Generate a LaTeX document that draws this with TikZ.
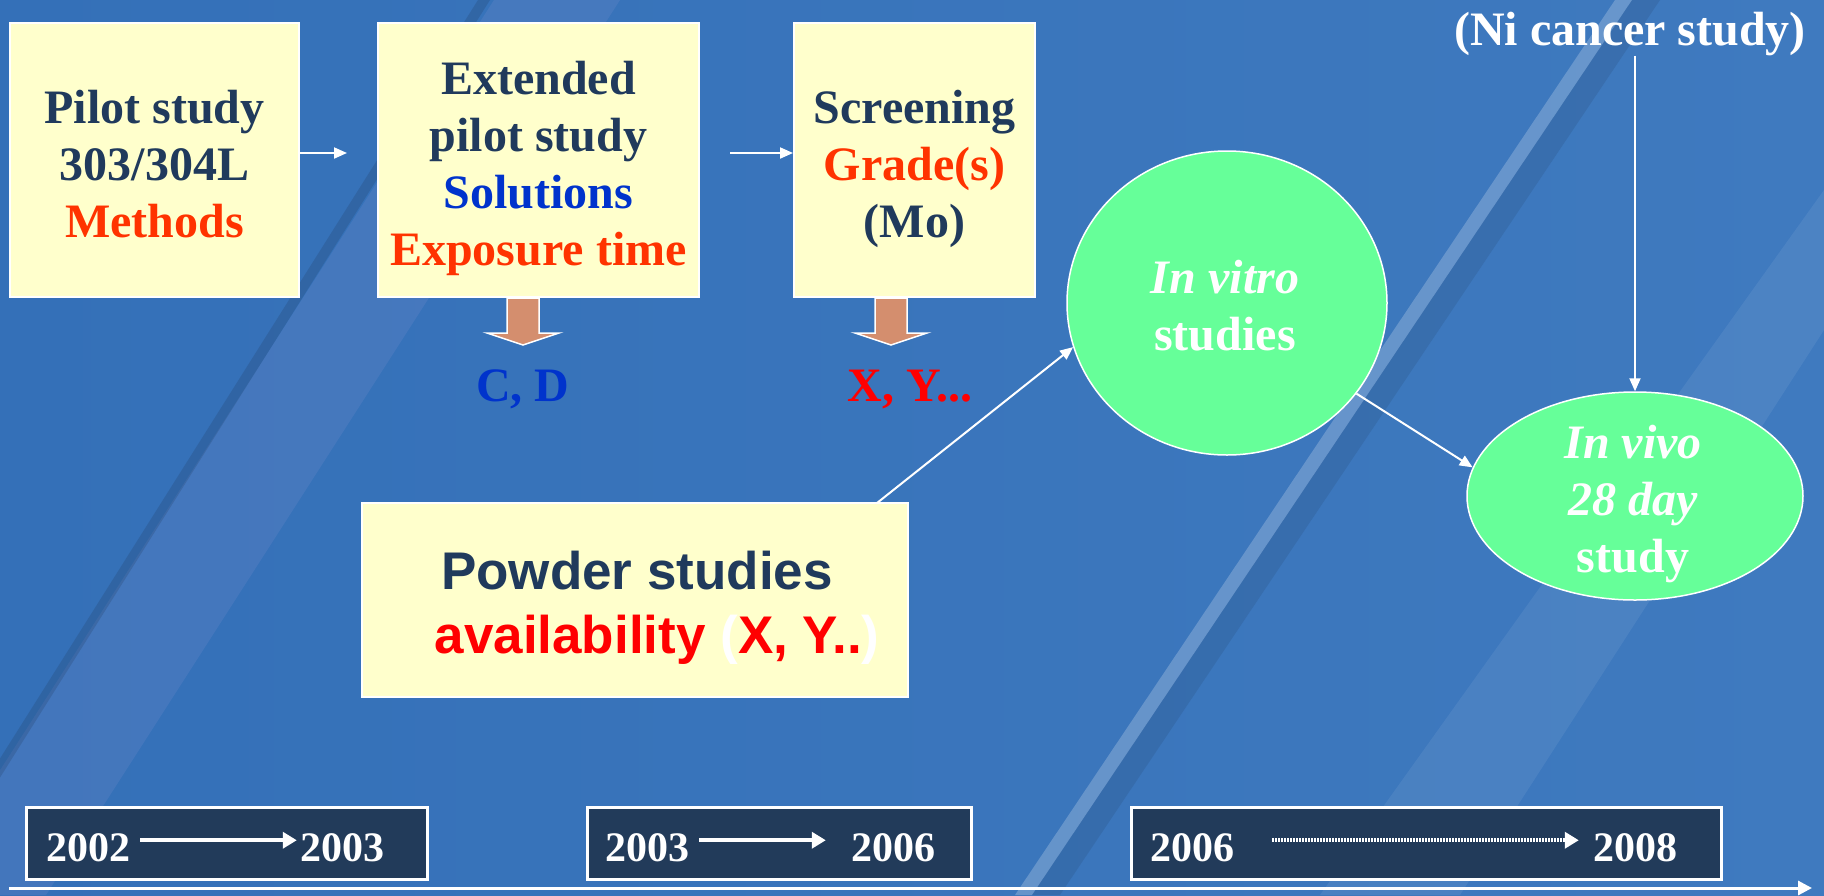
\documentclass[tikz,border=0pt]{standalone}
\usepackage{fontspec}
\setmainfont{Liberation Serif}
\newfontfamily\arialfont{Liberation Sans}
\usetikzlibrary{shapes.geometric,arrows.meta}
\definecolor{navy}{HTML}{203A5C}
\definecolor{orng}{HTML}{FF3300}
\definecolor{blu}{HTML}{0033CC}
\definecolor{rd}{HTML}{FF0000}
\definecolor{boxfill}{HTML}{FFFFCC}
\definecolor{grn}{HTML}{66FF99}
\definecolor{fatc}{HTML}{D48E6E}
\definecolor{tlbox}{HTML}{223B5A}
\definecolor{bgL}{HTML}{3470B8}
\definecolor{bgM}{HTML}{5289CB}
\definecolor{bgR}{HTML}{3F7ABF}
\definecolor{lilac}{HTML}{9C9ED8}
\begin{document}
\begin{tikzpicture}[x=1pt,y=-1pt,
  ybox/.style={draw=white,line width=2pt,fill=boxfill,inner sep=0pt},
  btxt/.style={font=\fontsize{48}{57}\selectfont\bfseries,text=navy,align=center,inner sep=0pt,anchor=north},
  etxt/.style={font=\fontsize{48}{57}\selectfont\bfseries,text=white,align=center,inner sep=0pt,anchor=north},
  ell/.style={ellipse,draw=white,line width=1.5pt,fill=grn,inner sep=0pt},
  warrow/.style={draw=white,line width=2pt,-{Triangle[length=13pt,width=11pt]}},
  fatarrow/.style={fill=fatc,draw=white,line width=1.5pt},
  lbl/.style={font=\fontsize{48}{57}\selectfont\bfseries,inner sep=0pt,anchor=base},
  tlb/.style={draw=white,line width=3pt,fill=tlbox,inner sep=0pt},
  yr/.style={font=\fontsize{42}{42}\selectfont\bfseries,text=white,inner sep=0pt,anchor=base},
  tarrow/.style={draw=white,line width=4pt,-{Triangle[length=14pt,width=16pt]}},
  axarrow/.style={draw=white,line width=3pt,-{Triangle[length=14pt,width=14pt]}}
]
\useasboundingbox (0,0) rectangle (1824,895);
% background
\shade[left color=bgL,middle color=bgM,right color=bgR] (0,0) rectangle (1824,895);
% left streak: light band and dark line
\fill[lilac,opacity=0.15] (494,0) -- (620,0) -- (46,895) -- (-80,895) -- cycle;
\fill[navy,opacity=0.22] (478,0) -- (490,0) -- (-74,895) -- (-86,895) -- cycle;
% middle-right streak: thin light line with dark shadow
\fill[white,opacity=0.22] (1615,0) -- (1632,0) -- (1032,895) -- (1015,895) -- cycle;
\fill[navy,opacity=0.16] (1632,0) -- (1660,0) -- (1060,895) -- (1032,895) -- cycle;
% broad light area on the right
\fill[white,opacity=0.07] (1320,895) -- (1460,895) -- (1824,330) -- (1824,190) -- cycle;
% top boxes
\node[ybox,minimum width=289pt,minimum height=274pt] (b1) at (154.5,160) {};
\node[ybox,minimum width=321pt,minimum height=274pt] (b2) at (538.5,160) {};
\node[ybox,minimum width=241pt,minimum height=274pt] (b3) at (914.5,160) {};
\node[btxt] (t1) at (154.5,89.5) {Pilot study\\303/304L\\\textcolor{orng}{Methods}};
\node[btxt] (t2) at (538.5,60.5) {Extended\\pilot study\\\textcolor{blu}{Solutions}\\\textcolor{orng}{Exposure time}};
\node[btxt] (t3) at (914.5,89.5) {Screening\\\textcolor{orng}{Grade(s)}\\(Mo)};
% connectors between top boxes
\coordinate (a12e) at (347,153);
\draw[warrow] (b1.east |- a12e) -- (a12e);
\coordinate (a23s) at (730,153);
\draw[warrow] (a23s) -- (a23s -| b3.west);
% fat arrows
\path[fatarrow] ([xshift=-15.5pt]b2.south) ++(-16,0) -- ++(0,35) -- ++(-20,0) -- ++(36,12) -- ++(36,-12) -- ++(-20,0) -- ++(0,-35) -- cycle;
\path[fatarrow] ([xshift=-23.5pt]b3.south) ++(-16,0) -- ++(0,35) -- ++(-20,0) -- ++(36,12) -- ++(36,-12) -- ++(-20,0) -- ++(0,-35) -- cycle;
\node[lbl,text=blu] (cd) at (523,401) {C, D};
\node[lbl,text=rd] (xy) at (910,401) {X, Y...};
% ellipses
\node[ell,minimum width=320pt,minimum height=304pt] (iv) at (1227,303) {};
\node[etxt] (ivt) at (1225,260) {\textit{In vitro}\\studies};
\node[ell,minimum width=336pt,minimum height=208pt] (ivv) at (1635,496) {};
\node[etxt] (ivvt) at (1633,425) {\textit{In vivo}\\\textit{28 day}\\study};
\node[lbl,text=white] (ni) at (1630,45) {(Ni cancer study)};
\draw[warrow] (ni.south -| ivv.north) -- (ivv.north);
\draw[warrow] (iv.325) -- (ivv.170);
% powder box
\node[ybox,minimum width=546pt,minimum height=194pt] (pw) at (635,600) {};
\node[inner sep=0pt,anchor=north,align=center,font=\arialfont\fontsize{53}{64}\selectfont\bfseries] (pwt) at (637,551)
  {\textcolor{navy}{Powder studies}\\\hspace*{40pt}\textcolor{rd}{availability {\color{white}(}X, Y..{\color{white})}}};
\coordinate (ps) at (877,503);
\draw[warrow] (ps) -- (iv.196);
% timeline
\node[tlb,minimum width=401pt,minimum height=72pt] (ta) at (226.5,843) {};
\node[tlb,minimum width=384pt,minimum height=72pt] (tb) at (779,843) {};
\node[tlb,minimum width=590pt,minimum height=72pt] (tc) at (1426,843) {};
\node[yr] (a1) at (88,861) {2002};
\node[yr] (a2) at (342,861) {2003};
\node[yr] (b1y) at (647,861) {2003};
\node[yr] (b2y) at (893,861) {2006};
\node[yr] (c1) at (1192,861) {2006};
\node[yr] (c2) at (1635,861) {2008};
\draw[tarrow] ([xshift=10pt,yshift=7pt]a1.east) -- ([xshift=-3pt,yshift=7pt]a2.west);
\draw[tarrow] ([xshift=10pt,yshift=7pt]b1y.east) -- ([xshift=-25pt,yshift=7pt]b2y.west);
\draw[tarrow,dash pattern=on 2pt off 1pt] ([xshift=38pt,yshift=7pt]c1.east) -- ([xshift=-14pt,yshift=7pt]c2.west);
\coordinate (ax0) at (9,888);
\coordinate (ax1) at (1812,888);
\draw[axarrow] (ax0) -- (ax1);
\end{tikzpicture}
\end{document}
